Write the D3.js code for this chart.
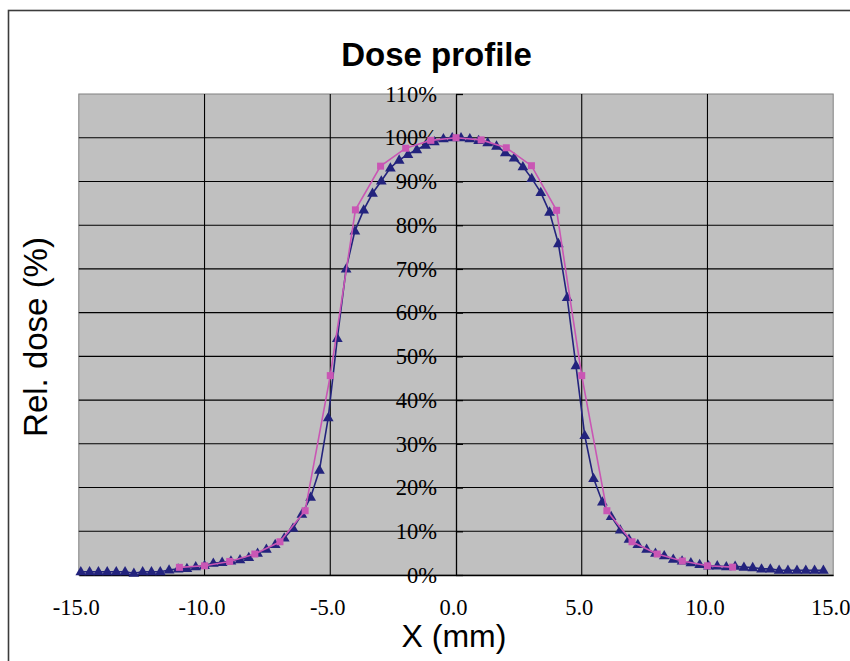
<!DOCTYPE html>
<html><head><meta charset="utf-8">
<script src="https://cdn.jsdelivr.net/npm/d3@7"></script>
<style>body{margin:0;background:#fff}svg{display:block}</style>
</head><body>
<svg id="c" width="850" height="661"></svg>
<script>
// Measured profile (triangles, dark blue)
const measuredX = [-14.92,-14.57,-14.22,-13.87,-13.51,-13.16,-12.81,-12.46,-12.11,-11.76,
  -11.41,-11.05,-10.70,-10.35,-10.00,-9.65,-9.30,-8.95,-8.59,-8.24,
  -7.89,-7.54,-7.19,-6.83,-6.48,-6.13,-5.78,-5.43,-5.08,-4.72,
  -4.37,-4.02,-3.67,-3.32,-2.97,-2.61,-2.26,-1.91,-1.56,-1.21,
  -0.86,-0.50,-0.15,0.20,0.55,0.90,1.26,1.61,1.96,2.31,
  2.66,3.01,3.37,3.72,4.07,4.42,4.77,5.12,5.47,5.82,
  6.17,6.53,6.88,7.23,7.58,7.93,8.28,8.64,8.99,9.34,
  9.69,10.04,10.39,10.75,11.10,11.45,11.80,12.15,12.50,12.85,
  13.20,13.56,13.91,14.26,14.61];
const measuredY = [0.75,0.75,0.75,0.75,0.75,0.75,0.4,0.75,0.75,0.75,
  1.15,1.4,1.5,1.9,2.2,2.7,2.9,3.2,3.5,4.0,
  5.0,5.9,7.0,8.5,10.7,13.9,17.8,24.0,36.0,54.1,
  70.0,78.7,83.5,87.3,90.1,93.1,94.9,96.2,97.3,98.3,
  99.1,99.8,100.0,100.0,99.8,99.4,98.9,98.1,96.6,95.4,
  93.4,90.7,87.5,83.0,75.8,63.5,47.9,31.9,22.1,16.7,
  13.4,10.3,8.2,7.0,5.9,5.0,4.4,3.6,3.2,2.8,
  2.4,2.1,2.1,1.9,2.0,1.8,1.7,1.4,1.4,1.1,
  1.1,1.1,1.1,1.1,1.1];
// Calculated profile (squares, magenta)
const calcX = [-11,-10,-9,-8,-7,-6,-5,-4,-3,-2,-1,0,1,2,3,4,5,6,7,8,9,10,11];
const calcY = [1.75,2.1,3.1,4.8,7.6,14.7,45.6,83.5,93.5,97.6,99.4,100,99.5,97.7,93.6,83.4,45.6,14.7,7.6,4.8,3.2,2.1,1.8];
const xTicks = [-15,-10,-5,0,5,10,15];
const yTicks = [0,10,20,30,40,50,60,70,80,90,100,110];

const svg = d3.select("#c");
const L = 78.8, R = 833.2, T = 94, B = 575;
const x = d3.scaleLinear().domain([-15,15]).range([L,R]);
const y = d3.scaleLinear().domain([0,110]).range([B,T]);

// chart frame
svg.append("rect").attr("x",8.5).attr("y",10.5).attr("width",900).attr("height",700)
  .attr("fill","#fff").attr("stroke","#3c3c3c").attr("stroke-width",1.6);

// plot area
svg.append("rect").attr("x",L).attr("y",T).attr("width",R-L).attr("height",B-T)
  .attr("fill","#c0c0c0").attr("stroke","#808080").attr("stroke-width",1);

// gridlines
svg.append("g").selectAll("line").data(yTicks.filter(d=>d>0&&d<110)).join("line")
  .attr("x1",L).attr("x2",R).attr("y1",d=>y(d)).attr("y2",d=>y(d))
  .attr("stroke","#000").attr("stroke-width",1.1);
svg.append("g").selectAll("line").data(xTicks.filter(d=>d!==0&&Math.abs(d)<15)).join("line")
  .attr("y1",T).attr("y2",B).attr("x1",d=>x(d)).attr("x2",d=>x(d))
  .attr("stroke","#000").attr("stroke-width",1.1);

// x axis
const fmt = d => d.toFixed(1);
const gx = svg.append("g").attr("transform",`translate(0,${y(0)})`)
  .call(d3.axisBottom(x).tickValues(xTicks).tickFormat(fmt).tickSize(0).tickPadding(24));
gx.select(".domain").attr("stroke","#000").attr("stroke-width",1.3);
gx.selectAll("text").attr("font-family","'Liberation Serif','Times New Roman',serif")
  .attr("font-size","22.5px").attr("fill","#000").attr("dx",-3);

// y axis at x = 0
const gy = svg.append("g").attr("transform",`translate(${x(0)},0)`)
  .call(d3.axisLeft(y).tickValues(yTicks).tickFormat(d=>d+"%").tickSizeInner(-7).tickSizeOuter(0).tickPadding(19));
gy.select(".domain").attr("stroke","#000").attr("stroke-width",1.3);
gy.selectAll(".tick line").attr("stroke","#000").attr("stroke-width",1.3);
gy.selectAll("text").attr("font-family","'Liberation Serif','Times New Roman',serif")
  .attr("font-size","22.5px").attr("fill","#000");

// series
const navy = "#23237d", pink = "#c956b4";
const measured = measuredX.map((v,i)=>[v,measuredY[i]]);
const calc = calcX.map((v,i)=>[v,calcY[i]]);
const line = d3.line().x(d=>x(d[0])).y(d=>y(d[1]));

svg.append("path").datum(measured).attr("d",line).attr("fill","none")
  .attr("stroke",navy).attr("stroke-width",1.6);
const tri = d3.symbol().type(d3.symbolTriangle).size(50);
svg.append("g").selectAll("path").data(measured).join("path")
  .attr("d",tri).attr("transform",d=>`translate(${x(d[0])},${y(d[1])+0.5})`)
  .attr("fill",navy);

svg.append("path").datum(calc).attr("d",line).attr("fill","none")
  .attr("stroke",pink).attr("stroke-width",1.6);
svg.append("g").selectAll("rect").data(calc).join("rect")
  .attr("x",d=>x(d[0])-3.5).attr("y",d=>y(d[1])-3.5).attr("width",7).attr("height",7)
  .attr("fill",pink);

// titles
svg.append("text").attr("x",436.5).attr("y",66).attr("text-anchor","middle")
  .attr("font-family","'Liberation Sans',Arial,sans-serif").attr("font-weight","bold")
  .attr("font-size","33px").text("Dose profile");
svg.append("text").attr("x",454).attr("y",647).attr("text-anchor","middle")
  .attr("font-family","'Liberation Sans',Arial,sans-serif")
  .attr("font-size","32px").text("X (mm)");
svg.append("text").attr("transform","translate(47,337) rotate(-90)").attr("text-anchor","middle")
  .attr("font-family","'Liberation Sans',Arial,sans-serif")
  .attr("font-size","33px").text("Rel. dose (%)");
</script>
</body></html>
